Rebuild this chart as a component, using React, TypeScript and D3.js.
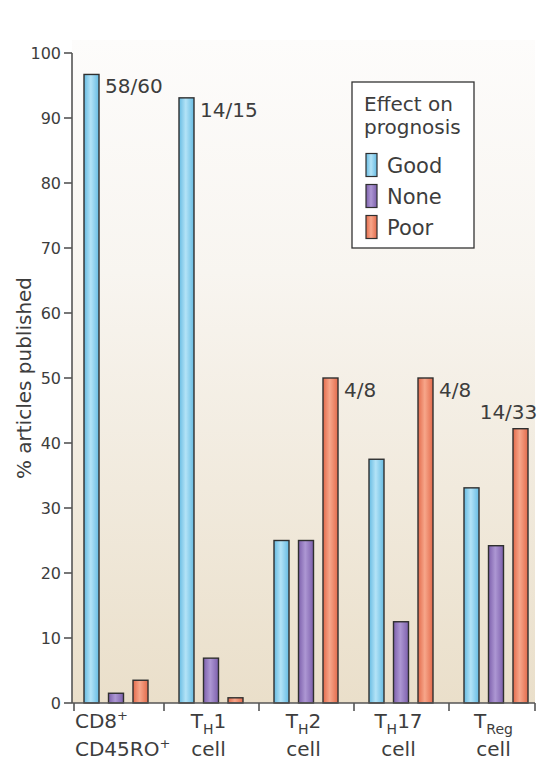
import React from "react";
import * as d3 from "d3";

const categories = ["CD8", "TH1", "TH2", "TH17", "TReg"];
const seriesKeys = ["Good", "None", "Poor"];
const goodValues = [96.7, 93.1, 25, 37.5, 33.1];
const noneValues = [1.5, 6.9, 25, 12.5, 24.2];
const poorValues = [3.5, 0.8, 50, 50, 42.2];
const fractionLabels = ["58/60", "14/15", "4/8", "4/8", "14/33"];
const fractionSeries = ["Good", "Good", "Poor", "Poor", "Poor"];
const yTicks = [0, 10, 20, 30, 40, 50, 60, 70, 80, 90, 100];
const legendTitle = ["Effect on", "prognosis"];

const W = 560;
const H = 765;
const FONT = "'DejaVu Sans', sans-serif";
const TEXT = "#3d3d3d";

const colors: Record<string, { edge: string; mid: string }> = {
  Good: { edge: "#66bbe2", mid: "#b3e3f7" },
  None: { edge: "#7d60ac", mid: "#ad97d3" },
  Poor: { edge: "#e36b4c", mid: "#f7a68a" },
};

export default function App() {
  const y = d3.scaleLinear().domain([0, 100]).range([703, 53]);
  const x0 = d3.scaleBand<string>().domain(categories).range([69, 544]);
  const x1 = d3
    .scaleBand<string>()
    .domain(seriesKeys)
    .range([15, 79])
    .paddingInner(0.388);
  const valuesBy: Record<string, number[]> = {
    Good: goodValues,
    None: noneValues,
    Poor: poorValues,
  };
  const axisX = 72;
  const axisEnd = 535;
  const bounds = categories
    .map((c) => x0(c) as number)
    .concat([(x0(categories[categories.length - 1]) as number) + x0.step()]);
  const tickXs = bounds.map((b) => Math.min(Math.max(b, axisX + 2), axisEnd));

  const sub = (main: string, s: string, rest: string) => (
    <>
      <tspan>{main}</tspan>
      <tspan fontSize={14} dy={6}>
        {s}
      </tspan>
      {rest ? <tspan dy={-6}>{rest}</tspan> : null}
    </>
  );

  const labelLine1: Record<string, React.ReactNode> = {
    CD8: (
      <>
        <tspan>CD8</tspan>
        <tspan fontSize={13} dy={-8}>
          +
        </tspan>
      </>
    ),
    TH1: sub("T", "H", "1"),
    TH2: sub("T", "H", "2"),
    TH17: sub("T", "H", "17"),
    TReg: sub("T", "Reg", ""),
  };
  const labelLine2: Record<string, React.ReactNode> = {
    CD8: (
      <>
        <tspan>CD45RO</tspan>
        <tspan fontSize={13} dy={-8}>
          +
        </tspan>
      </>
    ),
    TH1: "cell",
    TH2: "cell",
    TH17: "cell",
    TReg: "cell",
  };

  return (
    <svg
      width={W}
      height={H}
      style={{ position: "absolute", left: 0, top: 0, background: "#fff" }}
      fontFamily={FONT}
    >
      <defs>
        <linearGradient id="bg" x1="0" y1="0" x2="0" y2="1">
          <stop offset="0" stopColor="#fdfcfb" />
          <stop offset="0.35" stopColor="#f8f5f0" />
          <stop offset="1" stopColor="#eadfca" />
        </linearGradient>
        {seriesKeys.map((k) => (
          <linearGradient key={k} id={"g-" + k} x1="0" y1="0" x2="1" y2="0">
            <stop offset="0" stopColor={colors[k].edge} />
            <stop offset="0.45" stopColor={colors[k].mid} />
            <stop offset="1" stopColor={colors[k].edge} />
          </linearGradient>
        ))}
      </defs>
      <rect x={axisX} y={40} width={axisEnd - axisX} height={703 - 40} fill="url(#bg)" />

      {/* bars */}
      {categories.map((c, i) => (
        <g key={c} transform={`translate(${x0(c)},0)`}>
          {seriesKeys.map((k) => {
            const v = valuesBy[k][i];
            return (
              <rect
                key={k}
                x={x1(k)}
                y={y(v)}
                width={x1.bandwidth()}
                height={y(0) - y(v)}
                fill={`url(#g-${k})`}
                stroke="#2f2f2f"
                strokeWidth={1.4}
              />
            );
          })}
        </g>
      ))}

      {/* fraction labels */}
      {categories.map((c, i) => {
        const k = fractionSeries[i];
        const v = valuesBy[k][i];
        const bx = (x0(c) as number) + (x1(k) as number);
        if (i === 4) {
          return (
            <text
              key={c}
              x={bx + x1.bandwidth() / 2 - 12}
              y={y(v) - 10}
              fontSize={20}
              fill={TEXT}
              textAnchor="middle"
            >
              {fractionLabels[i]}
            </text>
          );
        }
        return (
          <text
            key={c}
            x={bx + x1.bandwidth() + 6}
            y={y(v) + 19}
            fontSize={20}
            fill={TEXT}
          >
            {fractionLabels[i]}
          </text>
        );
      })}

      {/* y axis */}
      <line x1={axisX} x2={axisX} y1={y(100)} y2={y(0)} stroke="#555" strokeWidth={1.6} />
      {yTicks.map((t) => (
        <g key={t}>
          <line x1={axisX - 8} x2={axisX} y1={y(t)} y2={y(t)} stroke="#555" strokeWidth={1.6} />
          <text
            x={axisX - 11}
            y={y(t)}
            dy="0.36em"
            textAnchor="end"
            fontSize={16}
            fill={TEXT}
          >
            {t}
          </text>
        </g>
      ))}
      <text
        transform={`translate(31,${(y(0) + y(100)) / 2}) rotate(-90)`}
        textAnchor="middle"
        fontSize={20}
        fill={TEXT}
      >
        % articles published
      </text>

      {/* x axis */}
      <line x1={axisX} x2={axisEnd} y1={y(0)} y2={y(0)} stroke="#555" strokeWidth={1.6} />
      {tickXs.map((tx, i) => (
        <line key={i} x1={tx} x2={tx} y1={y(0)} y2={y(0) + 8} stroke="#555" strokeWidth={1.6} />
      ))}
      {categories.map((c, i) => {
        const left = i === 0;
        const cx = left ? 75 : (x0(c) as number) + x0.bandwidth() / 2 - 3;
        const anchor = left ? "start" : "middle";
        return (
          <g key={c}>
            <text x={cx} y={728} textAnchor={anchor} fontSize={20} fill={TEXT}>
              {labelLine1[c]}
            </text>
            <text x={cx} y={756} textAnchor={anchor} fontSize={20} fill={TEXT}>
              {labelLine2[c]}
            </text>
          </g>
        );
      })}

      {/* legend */}
      <g>
        <rect x={352} y={82} width={122} height={166} fill="#fff" stroke="#333" strokeWidth={1.3} />
        {legendTitle.map((t, i) => (
          <text key={t} x={364} y={111 + i * 23} fontSize={20} fill={TEXT}>
            {t}
          </text>
        ))}
        {seriesKeys.map((k, i) => (
          <g key={k} transform={`translate(0,${165 + i * 31})`}>
            <rect
              x={366}
              y={-11.5}
              width={11}
              height={23}
              fill={`url(#g-${k})`}
              stroke="#2f2f2f"
              strokeWidth={1.2}
            />
            <text x={387} y={0} dy="0.36em" fontSize={21} fill={TEXT}>
              {k}
            </text>
          </g>
        ))}
      </g>
    </svg>
  );
}
